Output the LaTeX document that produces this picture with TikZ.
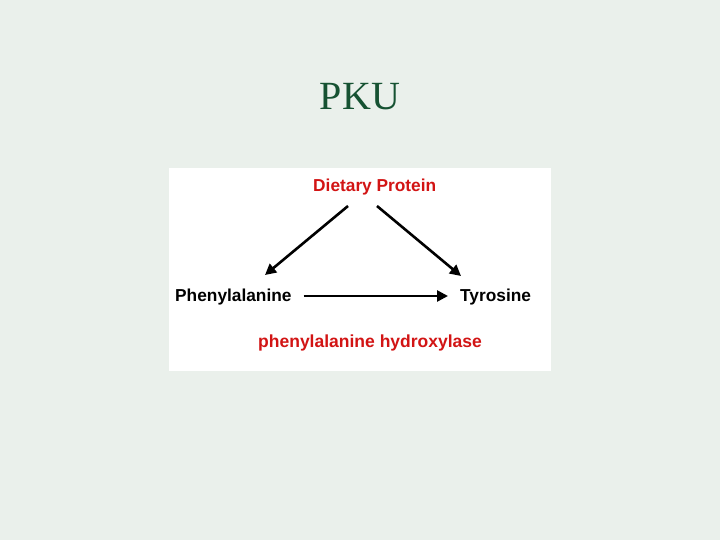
\documentclass[tikz,border=0pt]{standalone}
\usepackage{fontspec}
\setmainfont{Liberation Serif}
\newfontfamily\arialfont{Liberation Sans}
\usetikzlibrary{arrows.meta}
\definecolor{bgc}{RGB}{234,240,235}
\definecolor{titlec}{RGB}{22,82,50}
\definecolor{redc}{RGB}{210,20,20}
\tikzset{
  lbl/.style={inner sep=0pt, anchor=base west, font=\arialfont\bfseries\fontsize{17.3}{20}\selectfont},
  arr/.style={line width=2.6pt, -{Triangle[length=11pt,width=11pt]}}
}
\begin{document}
\begin{tikzpicture}[x=1pt,y=-1pt]
\fill[bgc] (0,0) rectangle (720,540);
\useasboundingbox (0,0) rectangle (720,540);
\fill[white] (169,168) rectangle (551,371);
\node[inner sep=0pt, anchor=base, text=titlec, font=\fontsize{40}{44}\selectfont] (title) at (360,110) {PKU};
\node[lbl, text=redc] (diet) at (313,192) {Dietary Protein};
\node[lbl] (phe) at (175,301) {Phenylalanine};
\node[lbl] (tyr) at (460,301) {Tyrosine};
\node[lbl, text=redc, font=\arialfont\bfseries\fontsize{17.5}{20}\selectfont] (enz) at (258,347) {phenylalanine hydroxylase};
\coordinate (dl) at (348,206);
\coordinate (dr) at (377,206);
\coordinate (pl) at (265,275);
\coordinate (tr) at (461,276);
\draw[arr] (dl) -- (pl);
\draw[arr] (dr) -- (tr);
\draw[arr] ([xshift=12pt,yshift=5pt]phe.base east) -- ([xshift=-12pt,yshift=5pt]tyr.base west);
\end{tikzpicture}
\end{document}
